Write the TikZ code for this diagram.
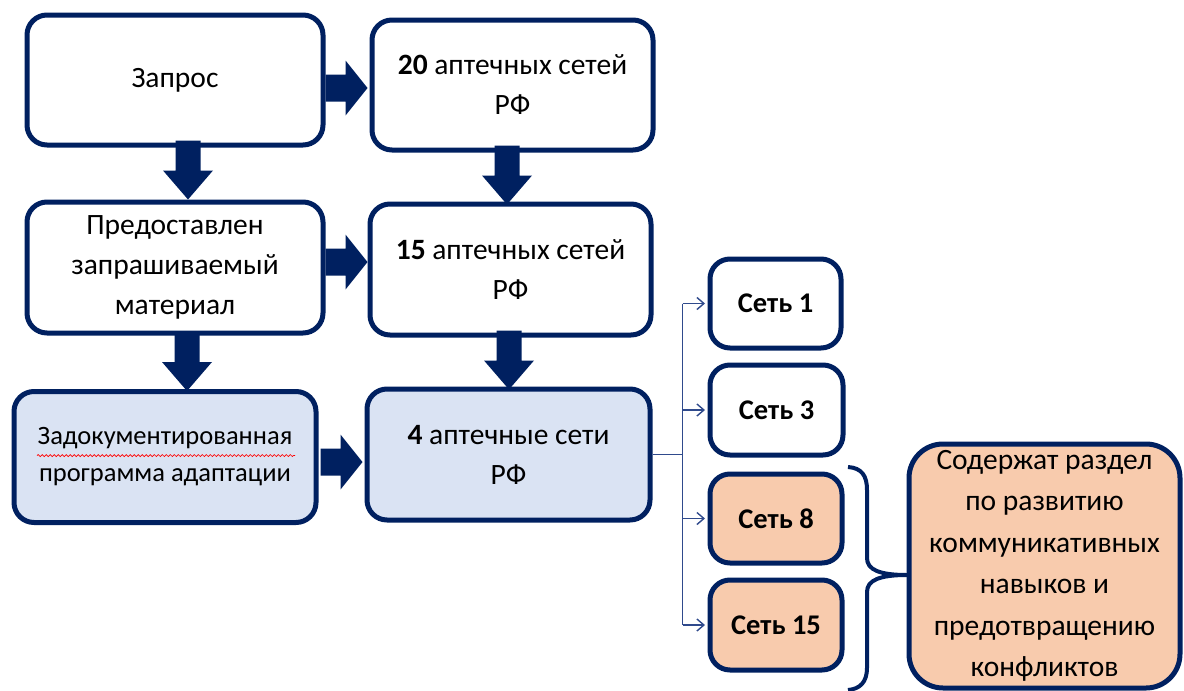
\documentclass[tikz,border=0pt]{standalone}
\usepackage{fontspec}
\setmainfont{Carlito}
\usetikzlibrary{arrows.meta,calc,decorations.pathmorphing}
\definecolor{navy}{HTML}{002060}
\definecolor{paleblue}{HTML}{DAE3F3}
\definecolor{peach}{HTML}{F8CBAD}
\definecolor{linkblue}{HTML}{2F4A8C}

\begin{document}
\begin{tikzpicture}[x=1pt,y=-1pt,
  box/.style={draw=navy, line width=5pt, rounded corners=20pt, fill=white,
    align=center, inner sep=0pt, text=black,
    font=\fontsize{29.5}{40}\selectfont},
  netbox/.style={box, font=\fontsize{28.5}{30}\selectfont\bfseries},
  link/.style={draw=linkblue, line width=1.4pt},
  tip/.style={-{Straight Barb[length=7pt,width=12pt]}, shorten >=2.5pt},
  pics/downarrow/.style={code={
    \fill[navy] (-12.5,-59) -- (12.5,-59) -- (12.5,-29) -- (25,-29)
      -- (0,0) -- (-25,-29) -- (-12.5,-29) -- cycle;}},
  pics/rightarrow/.style={code={
    \fill[navy] (-42,-13.5) -- (-22,-13.5) -- (-22,-27.5) -- (0,0)
      -- (-22,27.5) -- (-22,13.5) -- (-42,13.5) -- cycle;}}
]
\useasboundingbox (0,0) rectangle (1184,691);

% main column boxes
\node[box, minimum width=296pt, minimum height=130pt] (q) at (175,80) {Запрос};
\node[box, minimum width=281pt, minimum height=130pt] (n20) at (512.5,85)
  {{\bfseries 20} аптечных сетей\\РФ};
\node[box, minimum width=296pt, minimum height=131pt] (pm) at (175,267.5)
  {Предоставлен\\запрашиваемый\\материал};
\node[box, minimum width=281pt, minimum height=131pt] (n15) at (510.5,269.5)
  {{\bfseries 15} аптечных сетей\\РФ};
\node[box, fill=paleblue, minimum width=302pt, minimum height=131pt,
  font=\fontsize{26.5}{37}\selectfont] (doc) at (165,457)
  {Задокументированная\\программа адаптации};
\node[box, fill=paleblue, minimum width=283pt, minimum height=131pt] (n4) at (508.5,454.5)
  {{\bfseries 4} аптечные сети\\РФ};

% spell-check underline
\draw[red, line width=0.7pt, decorate,
  decoration={snake, segment length=4pt, amplitude=1pt}]
  ($(doc.center)+(-128,-1.5)$) -- ($(doc.center)+(130,-1.5)$);

% pharmacy network boxes
\node[netbox, minimum width=131pt, minimum height=89pt] (s1) at (775.5,303.5) {Сеть 1};
\node[netbox, minimum width=133pt, minimum height=90pt] (s3) at (776.5,410) {Сеть 3};
\node[netbox, fill=peach, minimum width=132pt, minimum height=89pt] (s8) at (776,518.5) {Сеть 8};
\node[netbox, fill=peach, minimum width=132pt, minimum height=90pt] (s15) at (776,625) {Сеть 15};

% summary box
\node[box, fill=peach, rounded corners=34pt, minimum width=271pt, minimum height=244pt,
  font=\fontsize{29.5}{41.5}\selectfont] (big) at (1044.5,566)
  {Содержат раздел\\по развитию\\коммуникативных\\навыков и\\предотвращению\\конфликтов};

% block arrows
\pic at ($(n20.west)+(-2,3)$) {rightarrow};
\pic at ($(n15.west)+(0,-7.5)$) {rightarrow};
\pic at ($(n4.west)+(-2,7.5)$) {rightarrow};
\pic at ($(pm.north)+(13,0)$) {downarrow};
\pic at ($(n15.north)+(-3.5,3)$) {downarrow};
\pic at ($(doc.north)+(22,2)$) {downarrow};
\pic at ($(n4.north)+(0.5,3)$) {downarrow};

% branching connectors
\coordinate (bus) at ($(n4.east)+(30,0)$);
\draw[link] (n4.east) -- (bus);
\draw[link] (bus |- s1.west) -- (bus |- s15.west);
\draw[link, tip] (bus |- s1.west) -- (s1.west);
\draw[link, tip] (bus |- s3.west) -- (s3.west);
\draw[link, tip] (bus |- s8.west) -- (s8.west);
\draw[link, tip] (bus |- s15.west) -- (s15.west);

% brace grouping networks 8 and 15
\draw[navy, line width=4pt]
  (848,467) .. controls (862,468) and (867,476) .. (867,490) -- (867,558)
  .. controls (867,570) and (880,575) .. (907,575)
  .. controls (880,575) and (867,580) .. (867,592) -- (867,668)
  .. controls (867,682) and (860,689) .. (848,690);
\end{tikzpicture}
\end{document}
